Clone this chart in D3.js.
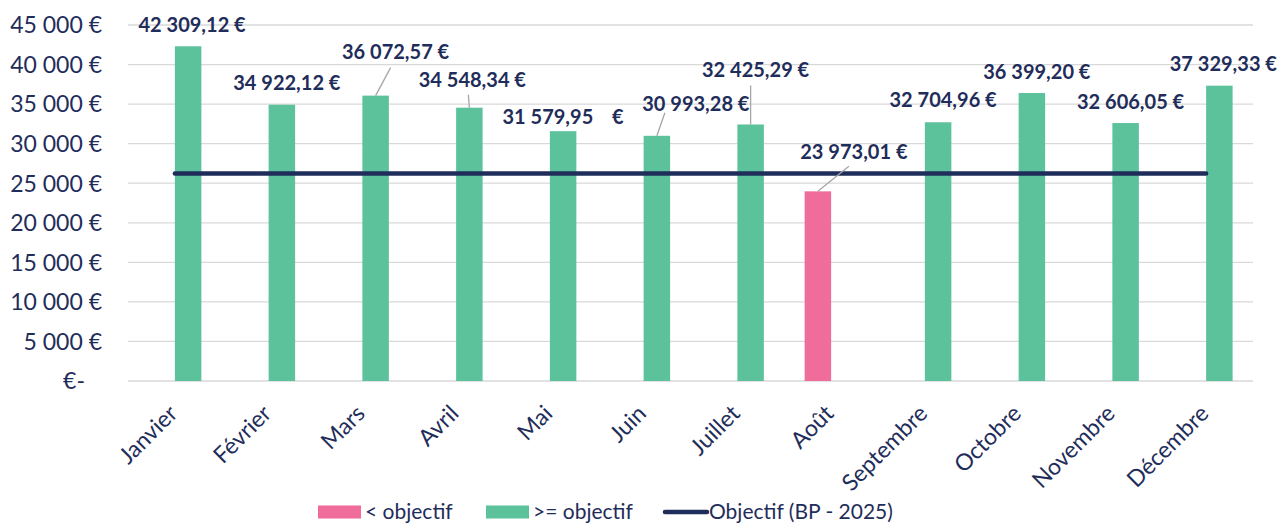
<!DOCTYPE html>
<html>
<head>
<meta charset="utf-8">
<script src="https://cdn.jsdelivr.net/npm/d3@7"></script>
<style>
  body { margin: 0; background: #fff; }
  text { font-family: Lato, "Open Sans", sans-serif; }
</style>
</head>
<body>
<div id="chart"></div>
<script>
// Data
const months = ["Janvier", "Février", "Mars", "Avril", "Mai", "Juin", "Juillet",
  "Août", "Septembre", "Octobre", "Novembre", "Décembre"];
const revenue = [42309.12, 34922.12, 36072.57, 34548.34, 31579.95, 30993.28,
  32425.29, 23973.01, 32704.96, 36399.20, 32606.05, 37329.33];
const objective = [26240, 26240, 26240, 26240, 26240, 26240,
  26240, 26240, 26240, 26240, 26240, 26240];
const yTicks = [0, 5000, 10000, 15000, 20000, 25000, 30000, 35000, 40000, 45000];
const seriesKeys = ["below", "above"];
const seriesNames = ["< objectif", ">= objectif"];
const lineName = "Objectif (BP - 2025)";

// Label placement (Excel labels were dragged by hand)
const labelNudge = [[4, -21], [5, -22], [20, -44], [3, -28], [0, -14], [39, -32],
  [5, -55], [36, -40], [5, -22], [5, -21], [5, -21], [4, -22]];
const leaderFrom = [null, null, [-5, 16], [-4, 15], null, [-31, 9],
  [-5, 16], [-5, 15], null, null, null, null];
const euroGap = [0, 0, 0, 0, 14, 0, 0, 0, 0, 0, 0, 0];

const width = 1281;
const height = 523;
const margin = { top: 25, right: 28, bottom: 142, left: 128 };

const colors = { below: "#F06C9B", above: "#5BC29C" };
const navy = "#1F2D5A";
const textColor = "#1F2D5A";

const fr = d3.formatLocale({
  decimal: ",", thousands: "\u00a0", grouping: [3], currency: ["", "\u00a0€"]
});
const fmtLabel = fr.format(",.2f");
const fmtTick = fr.format(",.0f");

const svg = d3.select("#chart")
  .append("svg")
  .attr("width", width)
  .attr("height", height);

const x = d3.scaleBand()
  .domain(months)
  .range([margin.left, width - margin.right])
  .paddingInner(0)
  .paddingOuter(0);

const xSub = d3.scaleBand()
  .domain(seriesKeys)
  .range([0, x.bandwidth()])
  .paddingInner(0)
  .paddingOuter(0.77);

const y = d3.scaleLinear()
  .domain([0, 45000])
  .range([height - margin.bottom, margin.top]);

const seriesOf = (v, i) => (v < objective[i] ? "below" : "above");

// Horizontal grid lines
svg.selectAll(".grid")
  .data(yTicks)
  .enter()
  .append("line")
  .attr("class", "grid")
  .attr("x1", margin.left)
  .attr("x2", width - margin.right)
  .attr("y1", d => y(d))
  .attr("y2", d => y(d))
  .style("stroke", "#D9D9D9")
  .style("stroke-width", 1.3);

// Y axis
const yAxis = svg.append("g")
  .attr("transform", `translate(${margin.left},0)`)
  .call(d3.axisLeft(y).tickValues(yTicks).tickSize(0).tickPadding(26)
    .tickFormat(d => (d === 0 ? "€-" : fmtTick(d) + "\u00a0€")));
yAxis.select(".domain").remove();
yAxis.selectAll("text")
  .attr("fill", textColor)
  .style("font-size", "23px")
  .attr("dy", "0.34em")
  .attr("dx", d => (d === 0 ? -17 : 0));

// Bars
const barX = (d, i) => x(months[i]) + xSub(seriesOf(d, i));
svg.selectAll("rect.bar")
  .data(revenue)
  .enter()
  .append("rect")
  .attr("class", "bar")
  .attr("x", barX)
  .attr("width", xSub.bandwidth())
  .attr("y", d => y(d))
  .attr("height", d => y(0) - y(d))
  .style("fill", (d, i) => colors[seriesOf(d, i)]);

// Objective line
const line = d3.line()
  .x((d, i) => x(months[i]) + x.bandwidth() / 2)
  .y(d => y(d));

svg.append("path")
  .datum(objective)
  .attr("d", line)
  .style("fill", "none")
  .style("stroke", navy)
  .style("stroke-width", 4.5)
  .style("stroke-linecap", "round");

// Data labels + leader lines
const barMid = (d, i) => barX(d, i) + xSub.bandwidth() / 2;
const labelX = (d, i) => barMid(d, i) + labelNudge[i][0];
const labelY = (d, i) => y(d) + labelNudge[i][1];

svg.selectAll("line.leader")
  .data(revenue.map((d, i) => ({ d, i })).filter(o => leaderFrom[o.i]))
  .enter()
  .append("line")
  .attr("class", "leader")
  .attr("x1", o => labelX(o.d, o.i) + leaderFrom[o.i][0])
  .attr("y1", o => labelY(o.d, o.i) + leaderFrom[o.i][1])
  .attr("x2", o => barMid(o.d, o.i))
  .attr("y2", o => y(o.d))
  .style("stroke", "#A6A6A6")
  .style("stroke-width", 1.3);

const labels = svg.selectAll("text.value")
  .data(revenue)
  .enter()
  .append("text")
  .attr("class", "value")
  .attr("x", labelX)
  .attr("y", labelY)
  .attr("dy", "0.36em")
  .attr("text-anchor", "middle")
  .attr("fill", textColor)
  .style("font-size", "20px")
  .style("font-weight", "bold");

labels.append("tspan").text(d => fmtLabel(d) + "\u00a0");
labels.append("tspan").attr("dx", (d, i) => euroGap[i]).text("€");

// X axis labels (rotated)
svg.selectAll("text.month")
  .data(months)
  .enter()
  .append("text")
  .attr("class", "month")
  .attr("transform", d => `translate(${x(d) + x.bandwidth() / 2 + 4},${y(0) + 34}) rotate(-45)`)
  .attr("text-anchor", "end")
  .attr("fill", textColor)
  .style("font-size", "23px")
  .text(d => d);

// Legend
const legend = svg.append("g").attr("class", "legend");
const legendY = 512;
const swatchX = [318, 486];

seriesKeys.forEach((k, i) => {
  legend.append("rect")
    .attr("x", swatchX[i])
    .attr("y", legendY - 6.5)
    .attr("width", 43)
    .attr("height", 13)
    .style("fill", colors[k]);
  legend.append("text")
    .attr("x", swatchX[i] + 47)
    .attr("y", legendY)
    .attr("dy", "0.35em")
    .attr("fill", textColor)
    .style("font-size", "21px")
    .text(seriesNames[i]);
});

legend.append("line")
  .attr("x1", 665)
  .attr("x2", 707)
  .attr("y1", legendY)
  .attr("y2", legendY)
  .style("stroke", navy)
  .style("stroke-width", 4.5)
  .style("stroke-linecap", "round");

legend.append("text")
  .attr("x", 709)
  .attr("y", legendY)
  .attr("dy", "0.35em")
  .attr("fill", textColor)
  .style("font-size", "21px")
  .text(lineName);
</script>
</body>
</html>
